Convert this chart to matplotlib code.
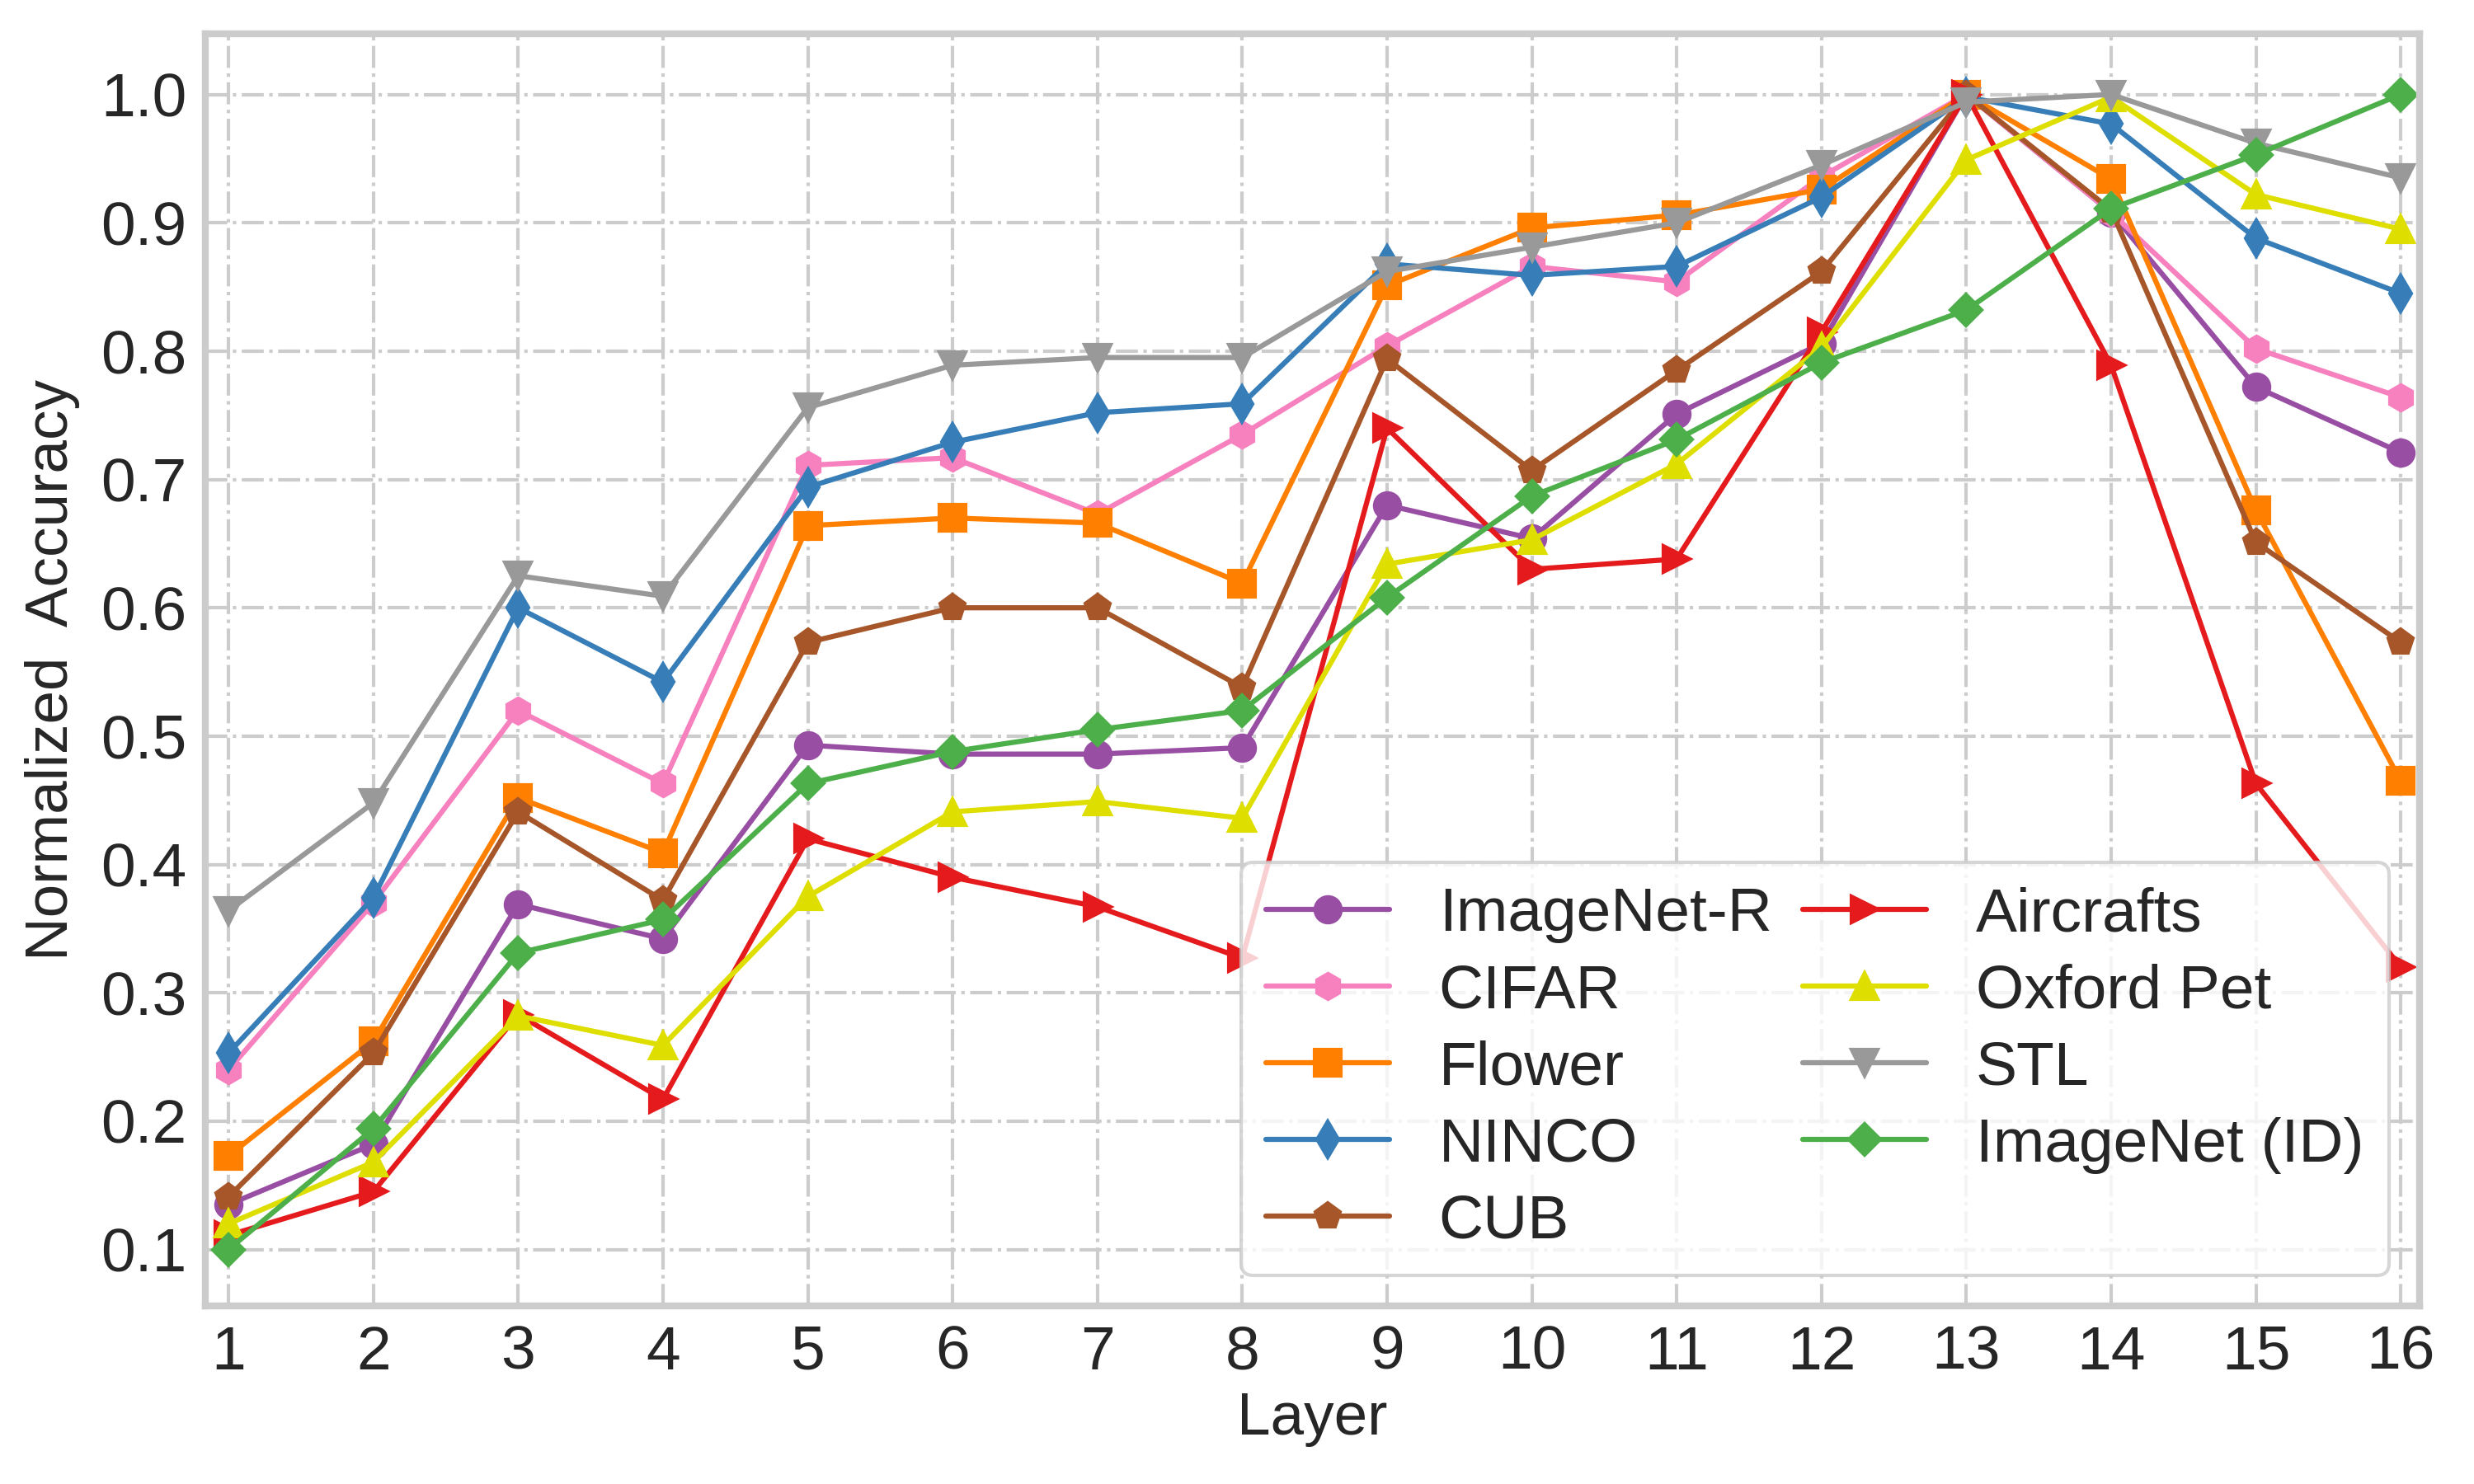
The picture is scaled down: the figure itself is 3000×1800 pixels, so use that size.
import numpy as np
import matplotlib
matplotlib.use("Agg")
import matplotlib.pyplot as plt
import seaborn as sns

layers = np.arange(1, 17)

imagenet_r = [0.135, 0.182, 0.369, 0.342, 0.493, 0.486, 0.486, 0.491, 0.680, 0.654, 0.751, 0.806, 1.000, 0.908, 0.772, 0.721]
cifar      = [0.240, 0.370, 0.520, 0.463, 0.711, 0.717, 0.673, 0.735, 0.804, 0.866, 0.854, 0.936, 1.000, 0.908, 0.802, 0.764]
flower     = [0.173, 0.262, 0.452, 0.409, 0.664, 0.670, 0.666, 0.619, 0.851, 0.896, 0.906, 0.926, 1.000, 0.934, 0.676, 0.465]
ninco      = [0.253, 0.374, 0.600, 0.542, 0.694, 0.729, 0.752, 0.759, 0.868, 0.859, 0.866, 0.920, 0.998, 0.977, 0.888, 0.845]
cub        = [0.141, 0.253, 0.441, 0.372, 0.573, 0.600, 0.600, 0.538, 0.794, 0.707, 0.785, 0.862, 1.000, 0.910, 0.651, 0.573]
aircrafts  = [0.111, 0.145, 0.283, 0.217, 0.420, 0.390, 0.367, 0.327, 0.740, 0.630, 0.638, 0.815, 1.000, 0.789, 0.463, 0.320]
oxford_pet = [0.120, 0.168, 0.282, 0.259, 0.375, 0.441, 0.449, 0.436, 0.634, 0.653, 0.712, 0.803, 0.949, 0.998, 0.922, 0.895]
stl        = [0.364, 0.448, 0.625, 0.609, 0.756, 0.789, 0.795, 0.795, 0.862, 0.881, 0.900, 0.945, 0.994, 1.000, 0.962, 0.935]
imagenet   = [0.100, 0.194, 0.331, 0.357, 0.463, 0.488, 0.505, 0.520, 0.608, 0.687, 0.731, 0.791, 0.832, 0.911, 0.953, 1.000]

series = [
    ("ImageNet-R", imagenet_r, "#984ea3", "o"),
    ("CIFAR", cifar, "#f781bf", "h"),
    ("Flower", flower, "#ff7f00", "s"),
    ("NINCO", ninco, "#377eb8", "d"),
    ("CUB", cub, "#a65628", "p"),
    ("Aircrafts", aircrafts, "#e41a1c", ">"),
    ("Oxford Pet", oxford_pet, "#dede00", "^"),
    ("STL", stl, "#999999", "v"),
    ("ImageNet (ID)", imagenet, "#4daf4a", "D"),
]

sns.set_style("whitegrid")
plt.rcParams['font.family'] = ['Liberation Sans', 'DejaVu Sans']

fig, ax = plt.subplots(figsize=(10, 6), dpi=300)
fig.subplots_adjust(left=0.083, right=0.978, top=0.977, bottom=0.12)

for name, vals, color, marker in series:
    ms = 6.5 if marker == "D" else 7.5
    ax.plot(layers, vals, color=color, marker=marker, markersize=ms,
            linewidth=1.5, label=name)

ax.set_xticks(layers)
ax.set_yticks(np.arange(0.1, 1.01, 0.1))
ax.set_xlim(0.84, 16.13)
ax.set_ylim(0.056, 1.047)
ax.tick_params(axis='both', labelsize=18, colors='#262626', pad=2)
ax.set_xlabel("Layer", fontsize=17.5, color='#262626', labelpad=3)
ax.set_ylabel("Normalized  Accuracy", fontsize=17.5, color='#262626', labelpad=6)

ax.grid(True, linestyle='-.', color='#cccccc', linewidth=1.0)
for sp in ax.spines.values():
    sp.set_color('#cccccc')
    sp.set_linewidth(2)

ax.legend(loc='lower right', ncol=2, fontsize=18, labelspacing=0.32,
          columnspacing=0.5, handlelength=2.0, handletextpad=0.8,
          framealpha=0.8, edgecolor='#cccccc')

fig.savefig("out.png", dpi=300)
